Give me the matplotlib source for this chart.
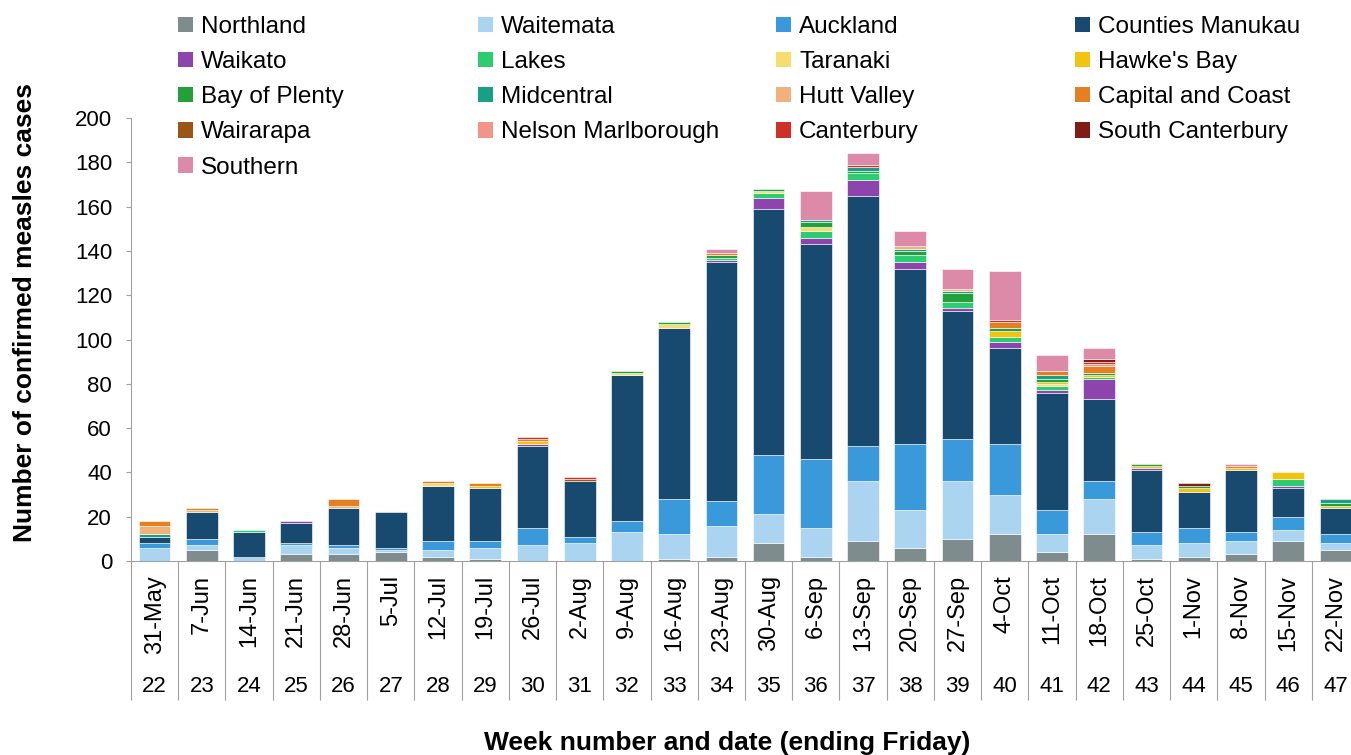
import numpy as np
import matplotlib
matplotlib.use('Agg')
import matplotlib.pyplot as plt

plt.rcParams['font.family'] = ['Liberation Sans', 'DejaVu Sans']

# Week ending dates and week numbers
fechas = ['31-May', '7-Jun', '14-Jun', '21-Jun', '28-Jun', '5-Jul', '12-Jul', '19-Jul',
          '26-Jul', '2-Aug', '9-Aug', '16-Aug', '23-Aug', '30-Aug', '6-Sep', '13-Sep',
          '20-Sep', '27-Sep', '4-Oct', '11-Oct', '18-Oct', '25-Oct', '1-Nov', '8-Nov',
          '15-Nov', '22-Nov']
semanas = list(range(22, 48))

# Confirmed cases per DHB
northland = [0, 5, 0, 3, 3, 4, 2, 1, 0, 0, 0, 1, 2, 8, 2, 9, 6, 10, 12, 4, 12, 1, 2, 3, 9, 5]
waitemata = [6, 2, 2, 4, 3, 1, 3, 5, 7, 8, 13, 11, 14, 13, 13, 27, 17, 26, 18, 8, 16, 6, 6, 6, 5, 3]
auckland = [2, 3, 0, 1, 1, 1, 4, 3, 8, 3, 5, 16, 11, 27, 31, 16, 30, 19, 23, 11, 8, 6, 7, 4, 6, 4]
counties = [3, 12, 11, 9, 17, 16, 25, 24, 37, 25, 66, 77, 108, 111, 97, 113, 79, 58, 43, 53, 37, 28, 16, 28, 13, 12]
waikato = [0, 0, 0, 1, 0, 0, 0, 0, 1, 0, 0, 0, 1, 5, 3, 7, 3, 1, 3, 1, 9, 1, 0, 0, 1, 0]
lakes = [0, 0, 1, 0, 0, 0, 0, 0, 0, 0, 0, 0, 1, 2, 3, 3, 3, 3, 2, 2, 1, 0, 0, 0, 3, 0]
taranaki = [0, 0, 0, 0, 0, 0, 1, 0, 0, 0, 1, 2, 0, 1, 2, 0, 0, 0, 0, 1, 0, 0, 0, 0, 0, 0]
hawkes_bay = [0, 0, 0, 0, 0, 0, 0, 1, 1, 0, 0, 0, 0, 0, 0, 0, 0, 0, 3, 1, 1, 1, 2, 1, 3, 1]
bay_of_plenty = [0, 0, 0, 0, 0, 0, 0, 0, 0, 0, 1, 1, 1, 1, 2, 1, 2, 4, 1, 1, 1, 1, 1, 0, 0, 1]
midcentral = [1, 0, 0, 0, 0, 0, 0, 0, 0, 0, 0, 0, 0, 0, 1, 2, 1, 1, 0, 2, 0, 0, 0, 0, 0, 2]
hutt_valley = [4, 1, 0, 0, 1, 0, 0, 0, 0, 0, 0, 0, 0, 0, 0, 0, 1, 1, 0, 0, 0, 0, 0, 0, 0, 0]
capital_coast = [2, 1, 0, 0, 3, 0, 1, 1, 1, 0, 0, 0, 1, 0, 0, 0, 0, 0, 3, 2, 3, 0, 0, 1, 0, 0]
wairarapa = [0, 0, 0, 0, 0, 0, 0, 0, 0, 1, 0, 0, 0, 0, 0, 0, 0, 0, 0, 0, 0, 0, 0, 0, 0, 0]
nelson_marl = [0, 0, 0, 0, 0, 0, 0, 0, 0, 0, 0, 0, 0, 0, 0, 0, 0, 0, 0, 0, 1, 0, 0, 0, 0, 0]
canterbury = [0, 0, 0, 0, 0, 0, 0, 0, 1, 1, 0, 0, 0, 0, 0, 1, 0, 0, 1, 0, 1, 0, 0, 0, 0, 0]
south_cant = [0, 0, 0, 0, 0, 0, 0, 0, 0, 0, 0, 0, 0, 0, 0, 0, 0, 0, 0, 0, 1, 0, 1, 0, 0, 0]
southern = [0, 0, 0, 0, 0, 0, 0, 0, 0, 0, 0, 0, 2, 0, 13, 5, 7, 9, 22, 7, 5, 0, 0, 1, 0, 0]

regiones = ['Northland', 'Waitemata', 'Auckland', 'Counties Manukau', 'Waikato', 'Lakes',
            'Taranaki', "Hawke's Bay", 'Bay of Plenty', 'Midcentral', 'Hutt Valley',
            'Capital and Coast', 'Wairarapa', 'Nelson Marlborough', 'Canterbury',
            'South Canterbury', 'Southern']
series = [northland, waitemata, auckland, counties, waikato, lakes, taranaki, hawkes_bay,
          bay_of_plenty, midcentral, hutt_valley, capital_coast, wairarapa, nelson_marl,
          canterbury, south_cant, southern]
colores = ['#7F8C8D', '#AAD4F0', '#3A99DB', '#174A6E', '#8E44AD', '#2ECC71', '#F7DC6F',
           '#F1C40F', '#24A03A', '#17A085', '#F0B27A', '#E67E22', '#9C5518', '#F1948A',
           '#CF3027', '#7F1D15', '#DD8AA8']

gris = '#A0A0A0'

fig = plt.figure(figsize=(13.51, 7.55), dpi=100)
ax = fig.add_axes([131 / 1351, 1 - 561 / 755, (1359 - 131) / 1351, (561 - 118) / 755])

x = np.arange(len(fechas))
base = np.zeros(len(fechas))
barras = []
for nombre, valores, c in zip(regiones, series, colores):
    grosor = [0.4 if v > 0 else 0 for v in valores]
    b = ax.bar(x, valores, width=0.67, bottom=base, color=c, edgecolor='white',
               linewidth=grosor, label=nombre)
    barras.append(b)
    base = base + np.array(valores)

ax.set_xlim(-0.5, 25.5)
ax.set_ylim(0, 200)
for s in ['top', 'right']:
    ax.spines[s].set_visible(False)
for s in ['left', 'bottom']:
    ax.spines[s].set_color(gris)

ax.set_yticks(range(0, 201, 20))
ax.tick_params(axis='y', length=3.6, color=gris, labelsize=16, pad=10)

# category separators of the date/week table
ax.set_xticks(np.arange(-0.5, 26, 1))
ax.tick_params(axis='x', which='major', length=100, color=gris, labelbottom=False)
ax.set_xticks(x, minor=True)
ax.set_xticklabels(fechas, minor=True, rotation=90, fontsize=17)
ax.tick_params(axis='x', which='minor', length=0, pad=10)

for i, w in enumerate(semanas):
    ax.text(i, (561 - 686) / 443, str(w), transform=ax.get_xaxis_transform(),
            ha='center', va='center', fontsize=16)

fig.text(25 / 1351, 1 - 312 / 755, 'Number of confirmed measles cases', rotation=90,
         fontsize=19, fontweight='bold', ha='center', va='center')
fig.text(727 / 1351, 1 - 743 / 755, 'Week number and date (ending Friday)',
         fontsize=19, fontweight='bold', ha='center', va='center')

# legend filled row by row, 4 columns
cols_x = [178, 478, 776, 1075]
for k in range(4):
    idx = list(range(k, len(regiones), 4))
    leg = fig.legend([barras[i] for i in idx], [regiones[i] for i in idx],
                     loc='upper left', bbox_to_anchor=(cols_x[k] / 1351, 1 - 16 / 755),
                     frameon=False, fontsize=17.5, borderpad=0, borderaxespad=0,
                     handlelength=0.6, handleheight=0.6, handletextpad=0.35,
                     labelspacing=0.54)
    for h in leg.legend_handles:
        h.set_linewidth(0)

fig.savefig('out.png', dpi=100)
